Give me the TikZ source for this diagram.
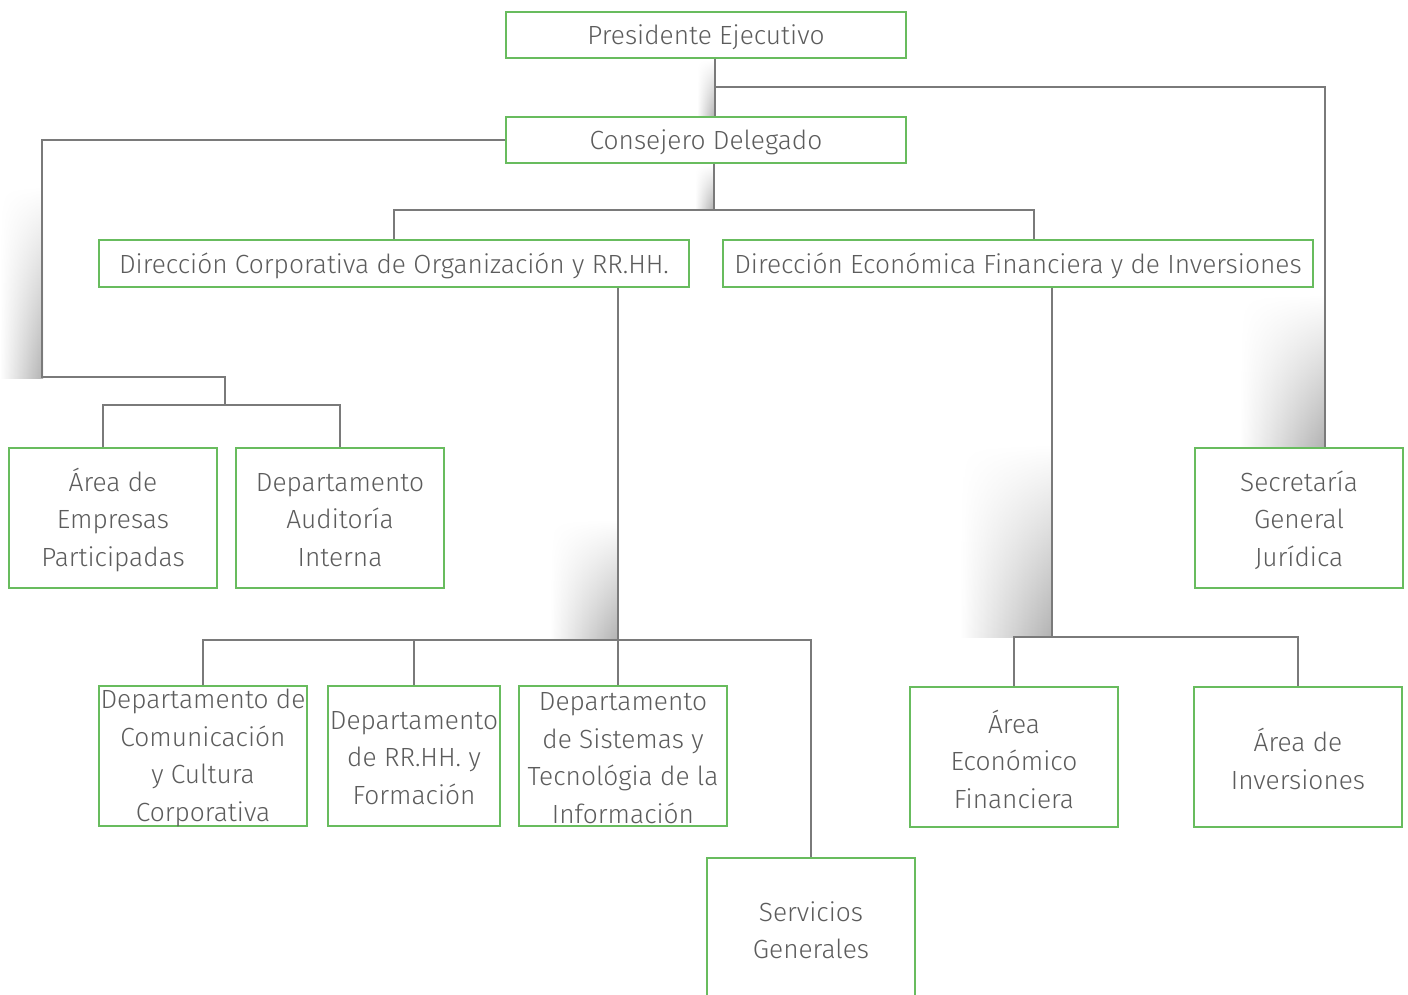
\documentclass[tikz,border=0pt]{standalone}
\usepackage{fontspec}
\setmainfont{Fira Sans Light}
\usetikzlibrary{fadings}
\tikzfading[name=shfade, top color=transparent!100, bottom color=transparent!0]
\definecolor{boxgreen}{RGB}{104,188,94}
\definecolor{linegray}{RGB}{122,122,122}
\definecolor{txtgray}{RGB}{92,92,92}
\begin{document}
\begin{tikzpicture}[x=1pt,y=-1pt,
  box/.style={draw=boxgreen, line width=1.4pt, inner sep=0pt},
  lbl/.style={align=center, text=txtgray, yshift=-2pt, font=\fontsize{26.3}{37.5}\selectfont},
  conn/.style={draw=linegray, line width=1.6pt},
  shadowbox/.style={left color=white, right color=black!30, path fading=shfade}]
\useasboundingbox (0,0) rectangle (1408,994);
% soft shadows
\shade[shadowbox] (0,187) rectangle (43,378);
\shade[shadowbox] (697,60) rectangle (714,117);
\shade[shadowbox] (695,165) rectangle (713,209);
\shade[shadowbox] (550,520) rectangle (617,640);
\shade[shadowbox] (960,445) rectangle (1051,637);
\shade[shadowbox] (1240,295) rectangle (1324,447);
% nodes
\node[box, minimum width=400pt, minimum height=46pt, label={[lbl]center:Presidente Ejecutivo}] (pres) at (706,35) {};
\node[box, minimum width=400pt, minimum height=46pt, label={[lbl]center:Consejero Delegado}] (cons) at (706,140) {};
\node[box, minimum width=590pt, minimum height=47pt, label={[lbl]center:Dirección Corporativa de Organización y RR.HH.}] (dcorp) at (394,263.5) {};
\node[box, minimum width=590pt, minimum height=47pt, label={[lbl]center:Dirección Económica Financiera y de Inversiones}] (decon) at (1018,263.5) {};
\node[box, minimum width=208pt, minimum height=140pt, label={[lbl]center:{Área de\\Empresas\\Participadas}}] (areaemp) at (113,518) {};
\node[box, minimum width=208pt, minimum height=140pt, label={[lbl]center:{Departamento\\Auditoría\\Interna}}] (audit) at (340,518) {};
\node[box, minimum width=208pt, minimum height=140pt, label={[lbl]center:{Secretaría\\General\\Jurídica}}] (secr) at (1299,518) {};
\node[box, minimum width=208pt, minimum height=140pt, label={[lbl]center:{Departamento de\\Comunicación\\y Cultura\\Corporativa}}] (dcom) at (203,756) {};
\node[box, minimum width=172pt, minimum height=140pt, label={[lbl]center:{Departamento\\de RR.HH. y\\Formación}}] (drrhh) at (414,756) {};
\node[box, minimum width=208pt, minimum height=140pt, label={[lbl]center:{Departamento\\de Sistemas y\\Tecnológia de la\\Información}}] (dsis) at (623,756) {};
\node[box, minimum width=208pt, minimum height=140pt, label={[lbl]center:{Área\\Económico\\Financiera}}] (aef) at (1014,757) {};
\node[box, minimum width=208pt, minimum height=140pt, label={[lbl]center:{Área de\\Inversiones}}] (ainv) at (1298,757) {};
\node[box, minimum width=208pt, minimum height=140pt, label={[lbl]center:{Servicios\\Generales}}] (serv) at (811,928) {};
% helper coordinates
\coordinate (pj) at (715,87);
\coordinate (sx) at (1325,0);
\coordinate (cl) at (42,377);
\coordinate (lb) at (225,405);
\coordinate (ax) at (103,0);
\coordinate (cj) at (714,210);
\coordinate (ex) at (1034,0);
\coordinate (dj) at (618,640);
\coordinate (ej) at (1052,637);
% connectors
\draw[conn] (pres.south -| pj) -- (cons.north -| pj);
\draw[conn] (pj) -| (secr.north -| sx);
\draw[conn] (cons.west) -| (cl) -| (lb);
\draw[conn] (areaemp.north -| ax) |- (lb) -| (audit.north);
\draw[conn] (cons.south -| cj) -- (cj);
\draw[conn] (dcorp.north) |- (cj) -| (decon.north -| ex);
\draw[conn] (dcorp.south -| dj) -- (dj);
\draw[conn] (dcom.north) |- (dj) -| (serv.north);
\draw[conn] (drrhh.north) -- (drrhh.north |- dj);
\draw[conn] (dsis.north -| dj) -- (dj);
\draw[conn] (decon.south -| ej) -- (ej);
\draw[conn] (aef.north) |- (ej) -| (ainv.north);
\end{tikzpicture}
\end{document}
